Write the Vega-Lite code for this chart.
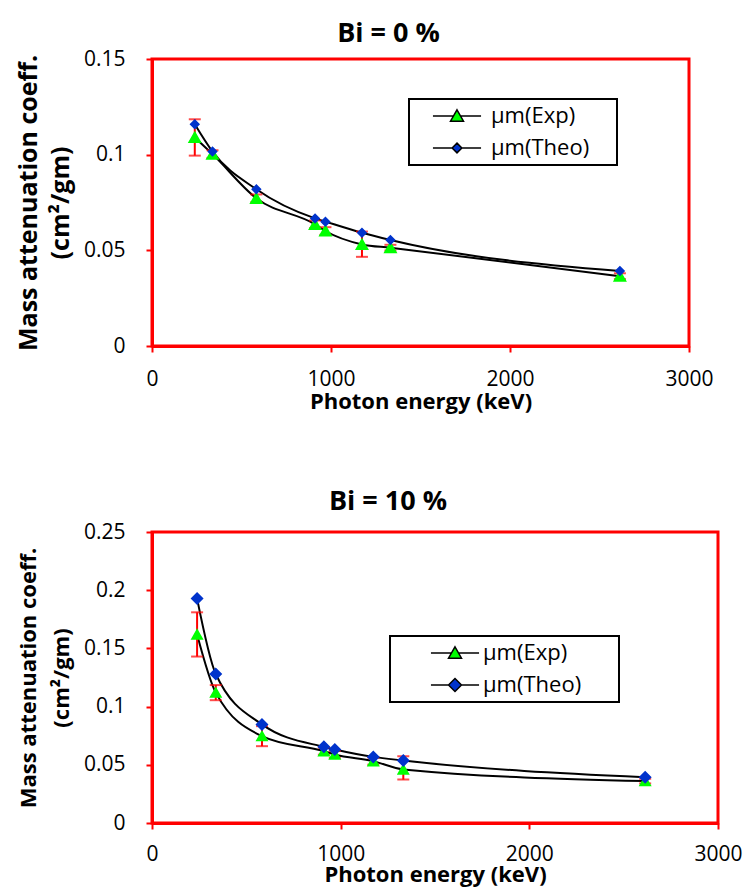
{
  "$schema": "https://vega.github.io/schema/vega-lite/v6.json",
  "background": "white",
  "padding": {"left": 14, "top": 18, "right": 5, "bottom": 0},
  "spacing": 72,
  "datasets": {
    "bi0": [
      {"E": 239, "series": "µm(Exp)", "mu": 0.109, "lo": 0.0995, "hi": 0.1185},
      {"E": 338, "series": "µm(Exp)", "mu": 0.1003, "lo": 0.0983, "hi": 0.1023},
      {"E": 583, "series": "µm(Exp)", "mu": 0.0772, "lo": 0.0752, "hi": 0.0792},
      {"E": 911, "series": "µm(Exp)", "mu": 0.0636, "lo": 0.0616, "hi": 0.0656},
      {"E": 969, "series": "µm(Exp)", "mu": 0.0601, "lo": 0.0581, "hi": 0.0621},
      {"E": 1173, "series": "µm(Exp)", "mu": 0.0531, "lo": 0.0466, "hi": 0.0598},
      {"E": 1332, "series": "µm(Exp)", "mu": 0.0514, "lo": 0.0499, "hi": 0.0529},
      {"E": 2614, "series": "µm(Exp)", "mu": 0.0365, "lo": 0.035, "hi": 0.038},
      {"E": 239, "series": "µm(Theo)", "mu": 0.1159},
      {"E": 338, "series": "µm(Theo)", "mu": 0.1016},
      {"E": 583, "series": "µm(Theo)", "mu": 0.0819},
      {"E": 911, "series": "µm(Theo)", "mu": 0.0667},
      {"E": 969, "series": "µm(Theo)", "mu": 0.065},
      {"E": 1173, "series": "µm(Theo)", "mu": 0.0592},
      {"E": 1332, "series": "µm(Theo)", "mu": 0.0554},
      {"E": 2614, "series": "µm(Theo)", "mu": 0.0392}
    ],
    "bi10": [
      {"E": 239, "series": "µm(Exp)", "mu": 0.162, "lo": 0.143, "hi": 0.181},
      {"E": 338, "series": "µm(Exp)", "mu": 0.112, "lo": 0.1055, "hi": 0.1185},
      {"E": 583, "series": "µm(Exp)", "mu": 0.0746, "lo": 0.066, "hi": 0.0832},
      {"E": 911, "series": "µm(Exp)", "mu": 0.0617, "lo": 0.0587, "hi": 0.0647},
      {"E": 969, "series": "µm(Exp)", "mu": 0.0589, "lo": 0.0559, "hi": 0.0619},
      {"E": 1173, "series": "µm(Exp)", "mu": 0.0531, "lo": 0.0501, "hi": 0.0561},
      {"E": 1332, "series": "µm(Exp)", "mu": 0.046, "lo": 0.0373, "hi": 0.0574},
      {"E": 2614, "series": "µm(Exp)", "mu": 0.036, "lo": 0.034, "hi": 0.038},
      {"E": 239, "series": "µm(Theo)", "mu": 0.1928},
      {"E": 338, "series": "µm(Theo)", "mu": 0.128},
      {"E": 583, "series": "µm(Theo)", "mu": 0.0847},
      {"E": 911, "series": "µm(Theo)", "mu": 0.0654},
      {"E": 969, "series": "µm(Theo)", "mu": 0.0632},
      {"E": 1173, "series": "µm(Theo)", "mu": 0.0568},
      {"E": 1332, "series": "µm(Theo)", "mu": 0.0537},
      {"E": 2614, "series": "µm(Theo)", "mu": 0.0394}
    ]
  },
  "vconcat": [
    {
      "width": 537,
      "height": 287,
      "title": {"text": "Bi = 0 %", "font": "Open Sans", "fontSize": 27, "fontWeight": "bold", "color": "black", "anchor": "middle", "dx": -32, "offset": 0},
      "data": {"name": "bi0"},
      "encoding": {
        "x": {"field": "E", "type": "quantitative", "scale": {"domain": [0, 3000], "nice": false},
          "axis": {"values": [0, 1000, 2000, 3000], "format": "d", "title": "Photon energy (keV)", "titlePadding": 2, "labelPadding": 16}},
        "y": {"field": "mu", "type": "quantitative", "scale": {"domain": [0, 0.15], "nice": false},
          "axis": {"values": [0, 0.05, 0.1, 0.15], "format": ".2~f", "title": ["Mass attenuation coeff.", "(cm²/gm)"], "titleFontSize": 25, "titleLineHeight": 32, "titlePadding": 10, "labelPadding": 21}}
      },
      "layer": [
        {"mark": {"type": "line", "interpolate": "monotone", "strokeWidth": 2},
         "encoding": {
           "stroke": {"field": "series", "type": "nominal",
             "scale": {"domain": ["µm(Exp)", "µm(Theo)"], "range": ["black", "black"]},
             "legend": {"orient": "none", "legendX": 257, "legendY": 40, "title": "\u00a0", "titleOrient": "right", "titlePadding": 22, "titleFontSize": 8, "symbolSize": 169, "symbolOffset": 31, "labelOffset": 23, "rowPadding": 10, "padding": 6, "symbolStrokeWidth": 1.5}}
         }},
        {"transform": [{"filter": {"field": "series", "equal": "µm(Exp)"}}],
         "mark": {"type": "errorbar", "color": "red", "thickness": 2, "ticks": {"size": 12, "thickness": 2, "color": "red"}},
         "encoding": {"y": {"field": "lo", "type": "quantitative"}, "y2": {"field": "hi"}}},
        {"mark": {"type": "point", "filled": true, "size": 196, "opacity": 1},
         "encoding": {
           "shape": {"field": "series", "type": "nominal",
             "scale": {"domain": ["µm(Exp)", "µm(Theo)"], "range": ["M-3.7,0L-0.5,0M0.5,0L3.7,0M0,-0.95L1,0.8L-1,0.8Z", "M-3.7,0L-0.75,0M0.75,0L3.7,0M0,-0.75L0.75,0L0,0.75L-0.75,0Z"]},
             "legend": {"orient": "none", "legendX": 257, "legendY": 40, "title": "\u00a0", "titleOrient": "right", "titlePadding": 22, "titleFontSize": 8, "symbolSize": 169, "symbolOffset": 31, "labelOffset": 23, "rowPadding": 10, "padding": 6, "symbolStrokeWidth": 1.5}},
           "fill": {"field": "series", "type": "nominal",
             "scale": {"domain": ["µm(Exp)", "µm(Theo)"], "range": ["#00FF00", "#0033CC"]},
             "legend": {"orient": "none", "legendX": 257, "legendY": 40, "title": "\u00a0", "titleOrient": "right", "titlePadding": 22, "titleFontSize": 8, "symbolSize": 169, "symbolOffset": 31, "labelOffset": 23, "rowPadding": 10, "padding": 6, "symbolStrokeWidth": 1.5}}
         }}
      ]
    },
    {
      "width": 566,
      "height": 291,
      "title": {"text": "Bi = 10 %", "font": "Open Sans", "fontSize": 27, "fontWeight": "bold", "color": "black", "anchor": "middle", "dx": -47, "offset": 5},
      "data": {"name": "bi10"},
      "encoding": {
        "x": {"field": "E", "type": "quantitative", "scale": {"domain": [0, 3000], "nice": false},
          "axis": {"values": [0, 1000, 2000, 3000], "format": "d", "title": "Photon energy (keV)", "titlePadding": 0, "labelPadding": 14}},
        "y": {"field": "mu", "type": "quantitative", "scale": {"domain": [0, 0.25], "nice": false},
          "axis": {"values": [0, 0.05, 0.1, 0.15, 0.2, 0.25], "format": ".2~f", "title": ["Mass attenuation coeff.", "(cm²/gm)"], "titleFontSize": 22, "titleLineHeight": 33, "titlePadding": 10, "labelPadding": 21}}
      },
      "layer": [
        {"mark": {"type": "line", "interpolate": "monotone", "strokeWidth": 2},
         "encoding": {
           "stroke": {"field": "series", "type": "nominal",
             "scale": {"domain": ["µm(Exp)", "µm(Theo)"], "range": ["black", "black"]},
             "legend": {"orient": "none", "legendX": 238, "legendY": 104, "title": "\u00a0", "titleOrient": "right", "titlePadding": 32, "titleFontSize": 8, "symbolSize": 169, "symbolOffset": 48, "labelOffset": 17, "rowPadding": 10, "padding": 6, "symbolStrokeWidth": 1.5}}
         }},
        {"transform": [{"filter": {"field": "series", "equal": "µm(Exp)"}}],
         "mark": {"type": "errorbar", "color": "red", "thickness": 2, "ticks": {"size": 12, "thickness": 2, "color": "red"}},
         "encoding": {"y": {"field": "lo", "type": "quantitative"}, "y2": {"field": "hi"}}},
        {"mark": {"type": "point", "filled": true, "size": 169, "opacity": 1},
         "encoding": {
           "shape": {"field": "series", "type": "nominal",
             "scale": {"domain": ["µm(Exp)", "µm(Theo)"], "range": ["M-3.7,0L-0.5,0M0.5,0L3.7,0M0,-0.95L1,0.8L-1,0.8Z", "M-3.7,0L-1,0M1,0L3.7,0M0,-1L1,0L0,1L-1,0Z"]},
             "legend": {"orient": "none", "legendX": 238, "legendY": 104, "title": "\u00a0", "titleOrient": "right", "titlePadding": 32, "titleFontSize": 8, "symbolSize": 169, "symbolOffset": 48, "labelOffset": 17, "rowPadding": 10, "padding": 6, "symbolStrokeWidth": 1.5}},
           "fill": {"field": "series", "type": "nominal",
             "scale": {"domain": ["µm(Exp)", "µm(Theo)"], "range": ["#00FF00", "#0033CC"]},
             "legend": {"orient": "none", "legendX": 238, "legendY": 104, "title": "\u00a0", "titleOrient": "right", "titlePadding": 32, "titleFontSize": 8, "symbolSize": 169, "symbolOffset": 48, "labelOffset": 17, "rowPadding": 10, "padding": 6, "symbolStrokeWidth": 1.5}}
         }}
      ]
    }
  ],
  "resolve": {
    "scale": {"x": "independent", "y": "independent", "shape": "independent", "fill": "independent", "stroke": "independent"},
    "legend": {"shape": "independent", "fill": "independent", "stroke": "independent"}
  },
  "config": {
    "font": "Open Sans",
    "view": {"stroke": "red", "strokeWidth": 3},
    "axis": {
      "grid": false,
      "domainColor": "red", "domainWidth": 3,
      "tickColor": "red", "tickWidth": 2, "tickSize": 6,
      "labelFont": "Open Sans", "labelFontSize": 21, "labelColor": "black",
      "labelFlush": false, "labelOverlap": false, "labelBound": false,
      "titleFont": "Open Sans", "titleFontSize": 22, "titleFontWeight": "bold", "titleColor": "black"
    },
    "legend": {
      "strokeColor": "black", "strokeWidth": 2, "fillColor": "white",
      "labelFont": "Open Sans", "labelFontSize": 22, "labelColor": "black"
    }
  }
}
